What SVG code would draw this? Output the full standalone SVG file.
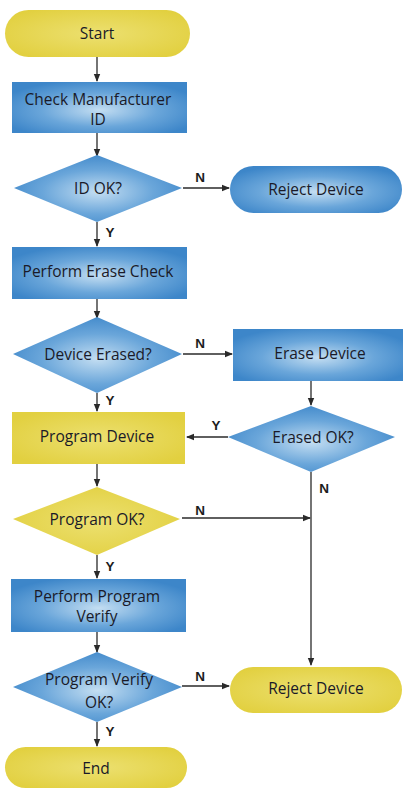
<svg xmlns="http://www.w3.org/2000/svg" width="405" height="789" viewBox="0 0 405 789">
<defs>
<radialGradient id="blue" cx="0.5" cy="0.55" r="0.6">
<stop offset="0" stop-color="#c4def2"/>
<stop offset="0.55" stop-color="#6aa6da"/>
<stop offset="1" stop-color="#3d86c9"/>
</radialGradient>
<radialGradient id="yellow" cx="0.5" cy="0.5" r="0.6">
<stop offset="0" stop-color="#ece070"/>
<stop offset="1" stop-color="#e2d040"/>
</radialGradient>
<marker id="ah" markerWidth="8" markerHeight="8" refX="7" refY="4" orient="auto" markerUnits="userSpaceOnUse">
<path d="M0,0.8 L8,4 L0,7.2 Z" fill="#2a2a2a"/>
</marker>
</defs>
<style>
.t{font-family:"Open Sans","Liberation Sans",sans-serif;font-size:15.5px;fill:#1a1a28;text-anchor:middle;dominant-baseline:central}
.l{font-family:"Liberation Sans",sans-serif;font-size:13.5px;font-weight:bold;fill:#1c1c1c;text-anchor:middle;dominant-baseline:central}
.c{stroke:#2a2a2a;stroke-width:1.3;fill:none;marker-end:url(#ah)}
.b{fill:url(#blue)}
.y{fill:url(#yellow)}
</style>
<rect width="405" height="789" fill="#ffffff"/>
<g id="connectors">
<line class="c" x1="97" y1="57" x2="97" y2="81"/>
<line class="c" x1="97" y1="133" x2="97" y2="156"/>
<line class="c" x1="183" y1="188" x2="229" y2="188"/>
<line class="c" x1="97" y1="222" x2="97" y2="246"/>
<line class="c" x1="97" y1="299" x2="97" y2="318"/>
<line class="c" x1="183" y1="354" x2="232" y2="354"/>
<line class="c" x1="97" y1="393" x2="97" y2="411"/>
<line class="c" x1="311" y1="381" x2="311" y2="405"/>
<line class="c" x1="228" y1="437" x2="187" y2="437"/>
<line class="c" x1="97" y1="464" x2="97" y2="486"/>
<line class="c" x1="311" y1="472" x2="311" y2="665"/>
<line class="c" x1="182" y1="518" x2="310" y2="518"/>
<line class="c" x1="97" y1="555" x2="97" y2="578"/>
<line class="c" x1="97" y1="632" x2="97" y2="652"/>
<line class="c" x1="182" y1="686" x2="229" y2="686"/>
<line class="c" x1="97" y1="722" x2="97" y2="746"/>
<text class="l" x="200" y="177">N</text>
<text class="l" x="110" y="232">Y</text>
<text class="l" x="200" y="343">N</text>
<text class="l" x="110" y="400">Y</text>
<text class="l" x="216" y="425">Y</text>
<text class="l" x="324" y="488">N</text>
<text class="l" x="200" y="510">N</text>
<text class="l" x="110" y="566">Y</text>
<text class="l" x="200" y="676">N</text>
<text class="l" x="110" y="731">Y</text>
</g>
<g id="start">
<rect class="y" x="5" y="10" width="185" height="47" rx="23.5"/>
<text class="t" x="97" y="33">Start</text>
</g>
<g id="check-id">
<rect class="b" x="12" y="82" width="175" height="51"/>
<text class="t" x="98" y="99">Check Manufacturer</text>
<text class="t" x="98" y="119">ID</text>
</g>
<g id="id-ok">
<polygon class="b" points="97,155 182,188 97,222 14,188"/>
<text class="t" x="98" y="188">ID OK?</text>
</g>
<g id="reject1">
<rect class="b" x="230" y="166" width="172" height="47" rx="23.5"/>
<text class="t" x="316" y="189">Reject Device</text>
</g>
<g id="erase-check">
<rect class="b" x="12" y="247" width="175" height="52"/>
<text class="t" x="98" y="271">Perform Erase Check</text>
</g>
<g id="device-erased">
<polygon class="b" points="97,317 182,354 97,393 13,354"/>
<text class="t" x="98" y="354">Device Erased?</text>
</g>
<g id="erase-device">
<rect class="b" x="233" y="329" width="170" height="52"/>
<text class="t" x="320" y="353">Erase Device</text>
</g>
<g id="erased-ok">
<polygon class="b" points="311,406 395,437 311,472 228,437"/>
<text class="t" x="313" y="437">Erased OK?</text>
</g>
<g id="program-device">
<rect class="y" x="12" y="412" width="173" height="52"/>
<text class="t" x="97" y="436">Program Device</text>
</g>
<g id="program-ok">
<polygon class="y" points="97,487 180,519 97,555 13,519"/>
<text class="t" x="97" y="519">Program OK?</text>
</g>
<g id="program-verify">
<rect class="b" x="11" y="579" width="175" height="53"/>
<text class="t" x="97" y="596">Perform Program</text>
<text class="t" x="97" y="616">Verify</text>
</g>
<g id="verify-ok">
<polygon class="b" points="97,652 182,687 97,722 13,687"/>
<text class="t" x="99" y="679">Program Verify</text>
<text class="t" x="99" y="702">OK?</text>
</g>
<g id="reject2">
<rect class="y" x="230" y="667" width="172" height="46" rx="23"/>
<text class="t" x="316" y="688">Reject Device</text>
</g>
<g id="end">
<rect class="y" x="5" y="747" width="182" height="41" rx="20.5"/>
<text class="t" x="96" y="768">End</text>
</g>
</svg>
